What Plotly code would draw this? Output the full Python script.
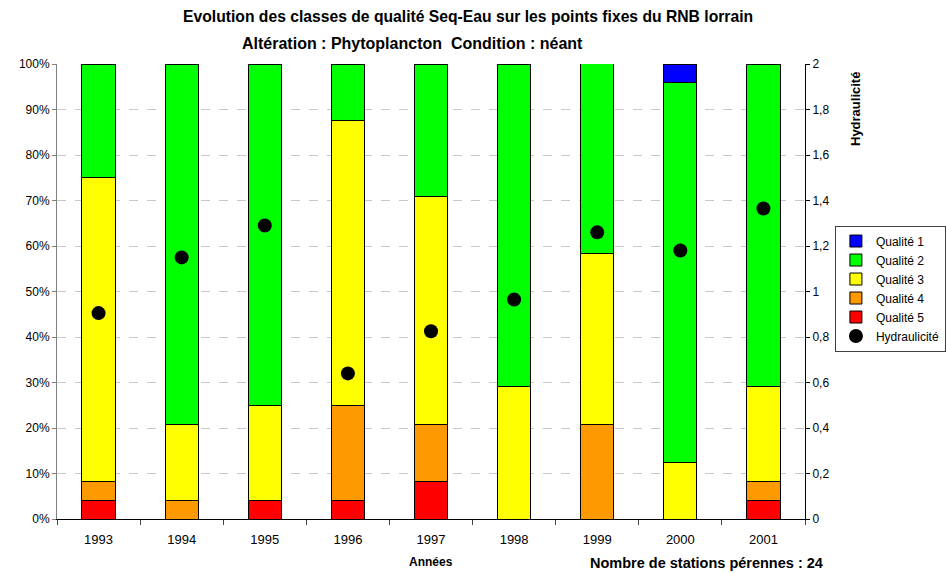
import plotly.graph_objects as go

years = ["1993", "1994", "1995", "1996", "1997", "1998", "1999", "2000", "2001"]
n_stations = 24

# station counts per quality class (out of 24 perennial stations)
q1 = [0, 0, 0, 0, 0, 0, 0, 1, 0]
q2 = [6, 19, 18, 3, 7, 17, 14, 20, 17]
q3 = [16, 4, 5, 15, 12, 7, 9, 3, 5]
q4 = [1, 1, 0, 5, 3, 0, 5, 0, 1]
q5 = [1, 0, 1, 1, 2, 0, 0, 0, 1]

hydraulicite = [0.905, 1.15, 1.29, 0.64, 0.825, 0.965, 1.26, 1.18, 1.365]

classes = [
    ("Qualité 5", q5, "#FF0000", 5),
    ("Qualité 4", q4, "#FF9900", 4),
    ("Qualité 3", q3, "#FFFF00", 3),
    ("Qualité 2", q2, "#00FF00", 2),
    ("Qualité 1", q1, "#0000FF", 1),
]

fig = go.Figure()
for name, counts, color, rank in classes:
    pct = [c / n_stations * 100 for c in counts]
    fig.add_trace(go.Bar(
        x=years, y=pct, name=name, legendrank=rank,
        marker=dict(color=color, line=dict(color="black", width=1)),
        width=0.4, hoverinfo="skip",
    ))

fig.add_trace(go.Scatter(
    x=years, y=hydraulicite, name="Hydraulicité", legendrank=6,
    mode="markers", yaxis="y2",
    marker=dict(color="black", size=14),
))

font = "Arial, Liberation Sans, sans-serif"
fig.update_layout(
    width=946, height=573,
    margin=dict(l=57, r=141, t=64, b=54, autoexpand=False),
    barmode="stack",
    bargap=0.6,
    separators=", ",
    paper_bgcolor="white",
    plot_bgcolor="white",
    font=dict(family=font, size=12, color="black"),
    showlegend=True,
    legend=dict(
        x=1.04, y=0.645, xanchor="left", yanchor="top",
        traceorder="normal",
        bordercolor="#404040", borderwidth=1,
        font=dict(size=12), tracegroupgap=0,
        itemwidth=30,
    ),
    xaxis=dict(
        type="category", range=[-0.5, len(years) - 0.5],
        tickson="boundaries", ticks="outside", ticklen=5,
        showline=True, linecolor="black", linewidth=1,
        showgrid=False, tickfont=dict(size=13), ticklabelstandoff=8,
    ),
    yaxis=dict(
        range=[0, 100], dtick=10, ticksuffix="%",
        ticks="outside", ticklen=4, tickcolor="#808080",
        showline=True, linecolor="#808080", linewidth=1,
        showgrid=True, gridcolor="#C8C8C8", griddash="dash", gridwidth=1,
        zeroline=False, tickfont=dict(size=12),
    ),
    yaxis2=dict(
        range=[0, 2], dtick=0.2, overlaying="y", side="right",
        ticks="outside", ticklen=4, tickcolor="black",
        showline=True, linecolor="black", linewidth=1,
        showgrid=False, zeroline=False, tickfont=dict(size=12),
    ),
    annotations=[
        dict(text="<b>Evolution des classes de qualité Seq-Eau sur les points fixes du RNB lorrain</b>",
             xref="paper", yref="paper", x=0.549, y=1.0, yshift=48,
             xanchor="center", yanchor="middle", showarrow=False, font=dict(size=15.7)),
        dict(text="<b>Altération : Phytoplancton  Condition : néant</b>",
             xref="paper", yref="paper", x=0.475, y=1.0, yshift=21,
             xanchor="center", yanchor="middle", showarrow=False, font=dict(size=16)),
        dict(text="<b>Années</b>", xref="paper", yref="paper", x=0.5, y=0, yshift=-43,
             xanchor="center", yanchor="middle", showarrow=False, font=dict(size=12)),
        dict(text="<b>Nombre de stations pérennes : 24</b>", xref="paper", yref="paper",
             x=0.868, y=0, yshift=-44, xanchor="center", yanchor="middle",
             showarrow=False, font=dict(size=14.5)),
        dict(text="<b>Hydraulicité</b>", xref="paper", yref="paper", x=1.0, xshift=50,
             y=1.0, yshift=-6, xanchor="center", yanchor="top", textangle=-90,
             showarrow=False, font=dict(size=13)),
    ],
)

fig.write_html("out.html")
